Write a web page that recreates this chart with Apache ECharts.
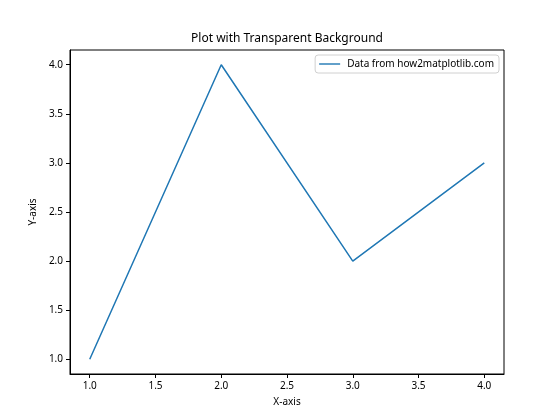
<!DOCTYPE html>
<html><head><meta charset="utf-8">
<script src="https://cdn.jsdelivr.net/npm/echarts@6/dist/echarts.min.js"></script>
<style>html,body{margin:0;padding:0;background:#fff}#c{width:560px;height:420px}</style>
</head><body><div id="c"></div>
<script>
var xValues = [1, 2, 3, 4];
var yValues = [1, 4, 2, 3];
var xTicks = [1.0, 1.5, 2.0, 2.5, 3.0, 3.5, 4.0];
var yTicks = [1.0, 1.5, 2.0, 2.5, 3.0, 3.5, 4.0];
var seriesName = 'Data from how2matplotlib.com';

var font = '"Noto Sans", "Open Sans", sans-serif';
var chart = echarts.init(document.getElementById('c'), null, {renderer: 'canvas'});
chart.setOption({
  animation: false,
  backgroundColor: '#fff',
  textStyle: {fontFamily: font},
  title: {text: 'Plot with Transparent Background', left: 287, top: 33, textAlign: 'center', padding: 0,
    textStyle: {fontSize: 12, fontWeight: 'normal', color: '#000', fontFamily: font}},
  legend: {right: 61, top: 55, itemWidth: 21, itemHeight: 10, itemGap: 6,
    borderColor: '#d0d0d0', borderWidth: 1, borderRadius: 3, padding: [4, 5, 4, 4],
    textStyle: {fontSize: 10, color: '#000', fontFamily: font, padding: [0, 0, 0, 2]},
    data: [{name: seriesName, icon: 'path://M0,5L21,5L21,6.4L0,6.4Z'}]},
  grid: {left: 70, right: 56, top: 50, bottom: 46, show: true, borderColor: '#000', borderWidth: 1, containLabel: false},
  xAxis: {type: 'value', min: 0.85, max: 4.15,
    name: 'X-axis', nameLocation: 'middle', nameGap: 23, nameTextStyle: {fontSize: 10, color: '#000'},
    axisLine: {show: true, lineStyle: {color: '#000'}},
    axisTick: {show: true, length: 4, customValues: xTicks, lineStyle: {color: '#000'}},
    axisLabel: {customValues: xTicks, color: '#000', fontSize: 10, margin: 7, formatter: function(v){return v.toFixed(1);}},
    splitLine: {show: false}},
  yAxis: {type: 'value', min: 0.85, max: 4.15,
    name: 'Y-axis', nameLocation: 'middle', nameGap: 24, nameTextStyle: {fontSize: 10, color: '#000'},
    axisLine: {show: true, lineStyle: {color: '#000'}},
    axisTick: {show: true, length: 4, customValues: yTicks, lineStyle: {color: '#000'}},
    axisLabel: {customValues: yTicks, color: '#000', fontSize: 10, margin: 7, formatter: function(v){return v.toFixed(1);}},
    splitLine: {show: false}},
  series: [{name: seriesName, type: 'line', data: xValues.map(function(x, i){return [x, yValues[i]];}),
    symbol: 'none', color: '#1f77b4', lineStyle: {width: 1.5, color: '#1f77b4'}}]
});
</script></body></html>
